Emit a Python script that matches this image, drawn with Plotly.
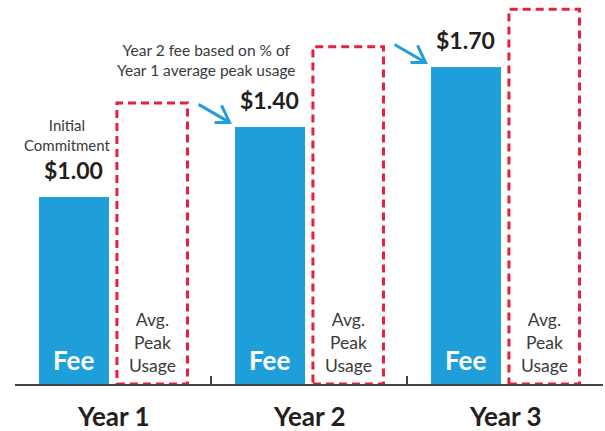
import plotly.graph_objects as go

years = ["Year 1", "Year 2", "Year 3"]
fee_heights = [1.00, 1.37, 1.69]
fee_labels = ["$1.00", "$1.40", "$1.70"]
usage_heights = [1.50, 1.80, 2.00]
bar_text = "Fee"
usage_text = "Avg.<br>Peak<br>Usage"
first_note = "Initial<br>Commitment"
arrow_note = "Year 2 fee based on % of<br>Year 1 average peak usage"

BLUE = "#1f9fda"
RED = "#e5213b"
DARK = "#231f20"
GRAY = "#3a3a3a"
FONT = "Lato"

xs = list(range(len(years)))
BW = 0.36
OFF = 0.02

fig = go.Figure()
fig.add_trace(go.Bar(
    x=xs, y=fee_heights, width=BW, offset=-(BW + OFF),
    marker=dict(color=BLUE, line=dict(width=0)),
    hoverinfo="skip", showlegend=False,
))

shapes = []
annotations = []

for i, x in enumerate(xs):
    shapes.append(dict(
        type="rect", xref="x", yref="y",
        x0=x + OFF, x1=x + OFF + BW, y0=0, y1=usage_heights[i],
        line=dict(color=RED, width=3, dash="8px,5px"),
        fillcolor="rgba(0,0,0,0)", layer="above",
    ))
    cx_fee = x - OFF - BW / 2
    cx_use = x + OFF + BW / 2
    annotations.append(dict(
        x=cx_fee, y=fee_heights[i], xref="x", yref="y", text="<b>" + fee_labels[i] + "</b>",
        showarrow=False, yanchor="middle", yshift=27,
        font=dict(family=FONT, size=23, color=DARK),
    ))
    annotations.append(dict(
        x=cx_fee, y=0, xref="x", yref="y", text="<b>" + bar_text + "</b>",
        showarrow=False, yanchor="middle", yshift=24,
        font=dict(family=FONT, size=26, color="white"),
    ))
    annotations.append(dict(
        x=cx_use, y=0, xref="x", yref="y", text=usage_text,
        showarrow=False, yanchor="middle", yshift=42,
        font=dict(family=FONT, size=17.5, color=GRAY),
    ))
    annotations.append(dict(
        x=x, y=0, xref="x", yref="y", text="<b>" + years[i] + "</b>",
        showarrow=False, yanchor="middle", yshift=-32,
        font=dict(family=FONT, size=26, color=DARK),
    ))
    if i > 0:
        shapes.append(dict(
            type="path", xref="x", yref="y",
            xsizemode="pixel", ysizemode="pixel",
            xanchor=x - OFF - BW, yanchor=fee_heights[i],
            path="M -36,23 L -5,5 M -20,5 L -5,5 L -13,22",
            line=dict(color=BLUE, width=3), fillcolor="rgba(0,0,0,0)", layer="above",
        ))

annotations.append(dict(
    x=xs[0] - OFF - BW / 2, y=fee_heights[0], xref="x", yref="y", text=first_note,
    showarrow=False, yanchor="middle", xshift=-6, yshift=62,
    font=dict(family=FONT, size=15, color=GRAY),
))
annotations.append(dict(
    x=0.475, y=1.73, xref="x", yref="y", text=arrow_note,
    showarrow=False, yanchor="middle",
    font=dict(family=FONT, size=15.5, color=GRAY),
))

fig.update_layout(
    width=605, height=431,
    margin=dict(l=15, r=2, t=0, b=47),
    paper_bgcolor="white", plot_bgcolor="white",
    shapes=shapes, annotations=annotations,
    xaxis=dict(
        range=[-0.5, 2.5], tickvals=[-0.5, 0.5, 1.5, 2.5],
        showticklabels=False, ticks="inside", ticklen=8, tickwidth=1.5,
        tickcolor="#444444", showline=True, linecolor="#444444", linewidth=1.5,
        showgrid=False, zeroline=False, fixedrange=True,
    ),
    yaxis=dict(range=[0, 2.05], visible=False, fixedrange=True),
    bargap=0,
)

fig.write_html("out.html")
